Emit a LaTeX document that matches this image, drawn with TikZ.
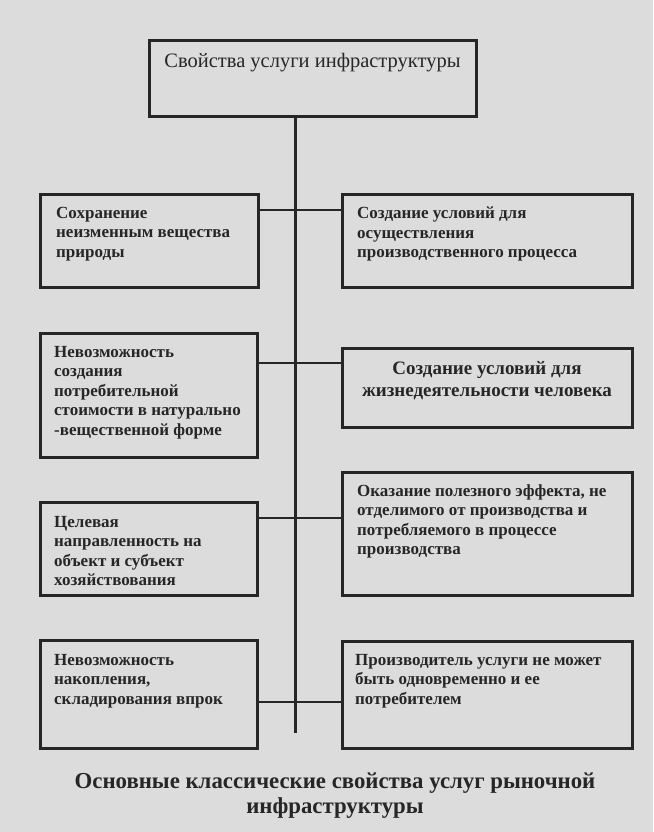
\documentclass[tikz,border=0pt]{standalone}
\usepackage{fontspec}
\setmainfont{Liberation Serif}
\usetikzlibrary{positioning, calc}
\definecolor{cpaper}{HTML}{DCDCDC}
\definecolor{cink}{HTML}{262626}
\tikzset{
  every picture/.style={x=1pt, y=-1pt},
  box/.style={draw=cink, line width=3pt, inner sep=0pt, minimum width=#1},
  box/.default=290,
  txt/.style={anchor=north west, inner sep=0pt, align=left, text=cink,
    font=\bfseries\fontsize{17}{19.5}\selectfont},
  link/.style={draw=cink, line width=1.4pt},
  trunk/.style={draw=cink, line width=3pt},
  caption/.style={anchor=north, inner sep=0pt, align=center, text=cink,
    font=\bfseries\fontsize{22.8}{25}\selectfont},
}

\begin{document}
\begin{tikzpicture}
  % paper
  \fill[cpaper] (0,0) rectangle (653,832);
  \useasboundingbox (0,0) rectangle (653,832);
  % top box
  \node[box=327, minimum height=76] (top) at (312.5,79) {};
  \node[anchor=north, inner sep=0pt, text=cink, font=\fontsize{20.5}{23}\selectfont] (toptxt) at (312.5,53) {Свойства услуги инфраструктуры};
  % left column
  \node[box=218, minimum height=93] (l1) at (149,240.5) {};
  \node[txt] (l1txt) at (56,207) {Сохранение\\неизменным вещества\\природы};
  \node[box=217, minimum height=124] (l2) at (148.5,395) {};
  \node[txt] (l2txt) at (54,346) {Невозможность\\создания\\потребительной\\стоимости в натурально\\-вещественной форме};
  \node[box=217, minimum height=93] (l3) at (148.5,548.5) {};
  \node[txt] (l3txt) at (54,516) {Целевая\\направленность на\\объект и субъект\\хозяйствования};
  \node[box=217, minimum height=108] (l4) at (148.5,694) {};
  \node[txt] (l4txt) at (54,654) {Невозможность\\накопления,\\складирования впрок};
  % right column
  \node[box, minimum height=93] (r1) at (487,240.5) {};
  \node[txt] (r1txt) at (357,207) {Создание условий для\\осуществления\\производственного процесса};
  \node[box, minimum height=79] (r2) at (487,387.5) {};
  \node[txt, anchor=north, align=center, font=\bfseries\fontsize{19}{22}\selectfont] (r2txt) at (487,361) {Создание условий для\\жизнедеятельности человека};
  \node[box, minimum height=123] (r3) at (487,533.5) {};
  \node[txt] (r3txt) at (357,484) {Оказание полезного эффекта, не\\отделимого от производства и\\потребляемого в процессе\\производства};
  \node[box, minimum height=107] (r4) at (487,694.5) {};
  \node[txt] (r4txt) at (355,654) {Производитель услуги не может\\быть одновременно и ее\\потребителем};
  % trunk and branches
  \coordinate (tend) at (295,733);
  \draw[trunk] (top.south -| tend) -- (tend);
  \coordinate (j1) at (295,210);
  \coordinate (j2) at (295,363);
  \coordinate (j3) at (295,518);
  \coordinate (j4) at (295,702);
  \draw[link] (j1 -| l1.east) -- (j1 -| r1.west);
  \draw[link] (j2 -| l2.east) -- (j2 -| r2.west);
  \draw[link] (j3 -| l3.east) -- (j3 -| r3.west);
  \draw[link] (j4 -| l4.east) -- (j4 -| r4.west);
  % caption
  \node[caption] (cap) at (335,773) {Основные классические свойства услуг рыночной\\инфраструктуры};
\end{tikzpicture}
\end{document}
